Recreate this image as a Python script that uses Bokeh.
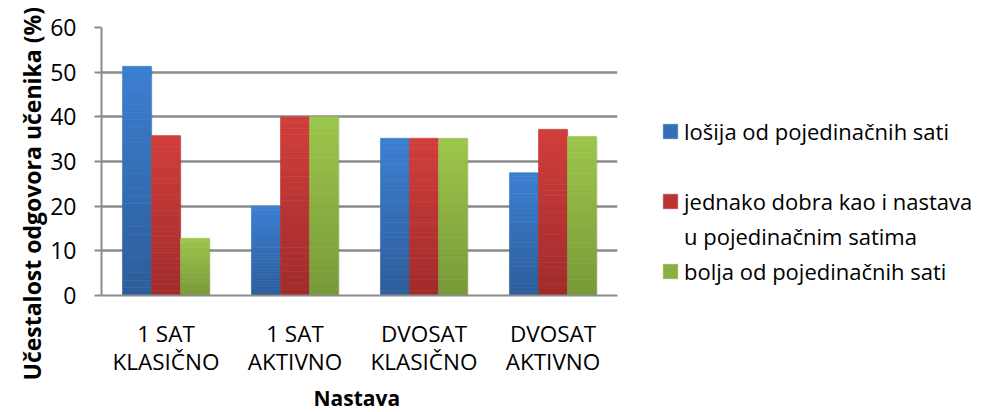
import math
from bokeh.plotting import figure
from bokeh.models import Range1d, FixedTicker, Legend, LegendItem, Title, ColumnDataSource
from bokeh.embed import file_html
from bokeh.resources import INLINE

# ---- data ----
categories = ["1 SAT\nKLASIČNO", "1 SAT\nAKTIVNO", "DVOSAT\nKLASIČNO", "DVOSAT\nAKTIVNO"]
series_names = ["lošija od pojedinačnih sati",
                "jednako dobra kao i nastava",
                "u pojedinačnim satima",
                "bolja od pojedinačnih sati"]
losija = [51.3, 20.0, 35.2, 27.5]
jednako = [35.8, 40.0, 35.2, 37.2]
bolja = [12.8, 40.0, 35.2, 35.6]
y_ticks = [0, 10, 20, 30, 40, 50, 60]
y_title = "Učestalost odgovora učenika (%)"
x_title = "Nastava"

# ---- styles ----
FONT = "Open Sans"
FS = "23px"
TOP_COLORS = [(60, 127, 209), (209, 62, 59), (157, 198, 75)]
BOT_COLORS = [(44, 93, 154), (160, 43, 43), (120, 153, 56)]
BAR_W = 0.225
OFFSETS = [-0.225, 0.0, 0.225]
N_STRIPS = 30

p = figure(frame_width=516, frame_height=268, output_backend="svg", toolbar_location=None,
           x_range=Range1d(0, len(categories)), y_range=Range1d(0, 60),
           min_border_left=101, min_border_right=365, min_border_top=27, min_border_bottom=0)
p.outline_line_color = None
p.background_fill_color = "white"

def hexc(c):
    return "#%02x%02x%02x" % tuple(int(round(v)) for v in c)

bar_r = []
for s, vals in enumerate([losija, jednako, bolja]):
    xs, tops, bots, cols = [], [], [], []
    for i, v in enumerate(vals):
        for k in range(N_STRIPS):
            t = (k + 0.5) / N_STRIPS
            c = [BOT_COLORS[s][j] + (TOP_COLORS[s][j] - BOT_COLORS[s][j]) * t for j in range(3)]
            xs.append(i + 0.5 + OFFSETS[s])
            bots.append(v * k / N_STRIPS)
            tops.append(v * (k + 1) / N_STRIPS)
            cols.append(hexc(c))
    src = ColumnDataSource(dict(x=xs, top=tops, bottom=bots, color=cols))
    # soft shadow
    p.vbar(x=[i + 0.5 + OFFSETS[s] + 0.012 for i in range(len(vals))], width=BAR_W,
           top=[v - 0.2 for v in vals], bottom=0, fill_color="black", fill_alpha=0.07,
           line_color=None)
    bar_r.append(p.vbar(x="x", width=BAR_W, top="top", bottom="bottom", fill_color="color",
                        line_color="color", line_width=0.6, source=src))

# invisible renderer used only for the blank / continuation legend rows
blank = p.vbar(x=[i + 0.5 for i in range(len(categories))], width=BAR_W, top=losija,
               fill_alpha=0, line_alpha=0)

mid = N_STRIPS // 2
items = [
    LegendItem(label=series_names[0], renderers=[bar_r[0]], index=mid),
    LegendItem(label=" ", renderers=[blank]),
    LegendItem(label=series_names[1], renderers=[bar_r[1]], index=mid),
    LegendItem(label=series_names[2], renderers=[blank]),
    LegendItem(label=series_names[3], renderers=[bar_r[2]], index=mid),
]
legend = Legend(items=items, location=(44, 9), margin=0, padding=0,
                glyph_width=18, glyph_height=18, label_height=31,
                spacing=4, label_standoff=5, border_line_color=None,
                background_fill_alpha=0,
                label_text_font=FONT, label_text_font_size="22px",
                label_text_color="#000000")
p.add_layout(legend, "right")

# axes
ax = p.xaxis[0]
ax.ticker = FixedTicker(ticks=[i + 0.5 for i in range(len(categories))])
ax.major_label_overrides = {i + 0.5: c for i, c in enumerate(categories)}
ax.major_tick_line_color = None
ax.minor_tick_line_color = None
ax.axis_line_color = "#8c8c8c"
ax.axis_line_width = 2
ax.major_label_text_font = FONT
ax.major_label_text_font_size = "22.5px"
ax.major_label_text_color = "#000000"
ax.major_label_text_line_height = 0.93
ax.major_label_standoff = 16

ay = p.yaxis[0]
ay.ticker = FixedTicker(ticks=y_ticks)
ay.minor_tick_line_color = None
ay.major_tick_in = 0
ay.major_tick_out = 7
ay.major_tick_line_color = "#8c8c8c"
ay.major_tick_line_width = 2
ay.axis_line_color = "#8c8c8c"
ay.axis_line_width = 2
ay.major_label_text_font = FONT
ay.major_label_text_font_size = FS
ay.major_label_text_color = "#000000"
ay.major_label_standoff = 18

p.xgrid.grid_line_color = None
p.ygrid.ticker = FixedTicker(ticks=y_ticks)
p.ygrid.grid_line_color = "#8c8c8c"
p.ygrid.grid_line_width = 2.5

p.add_layout(Title(text=y_title, align="left", offset=-85, standoff=0,
                   text_font=FONT, text_font_style="bold", text_font_size="23px",
                   text_color="#000000"), "left")
p.add_layout(Title(text=x_title, align="left", offset=212, standoff=2,
                   text_font=FONT, text_font_style="bold", text_font_size="21px",
                   text_color="#000000"), "below")

open("out.html", "w").write(file_html(p, INLINE))
